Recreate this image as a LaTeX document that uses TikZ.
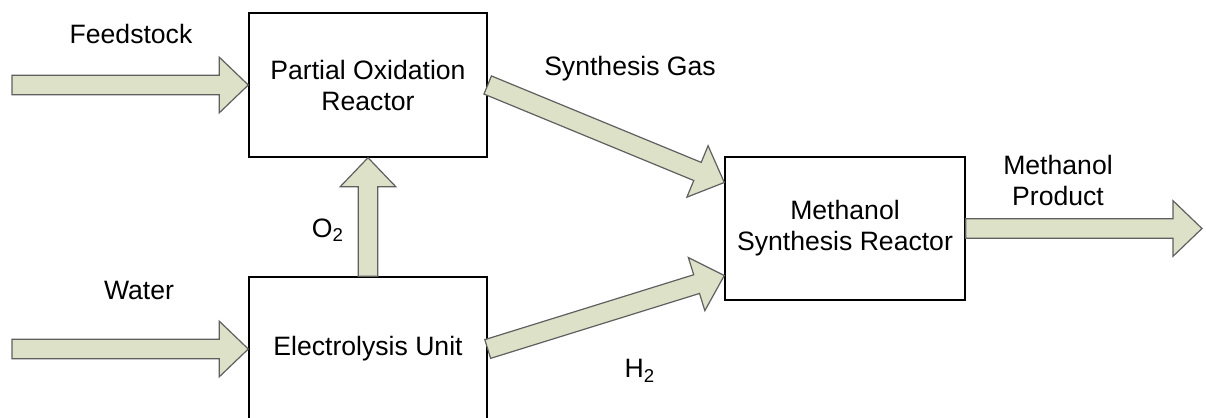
\documentclass[tikz,border=0pt]{standalone}
\usepackage{fontspec}
\setmainfont{Liberation Sans}
\usetikzlibrary{calc,positioning}
\definecolor{flowfill}{RGB}{221,225,200}
\definecolor{flowline}{RGB}{95,95,95}
\newcommand{\flowarrow}[2]{%
  \path[flow] let \p1=($(#2)!14.5pt!(#1)$) in
    ($(#1)!4.9pt!90:(#2)$) -- ($(\p1)!4.9pt!90:(#2)$) -- ($(\p1)!13.9pt!90:(#2)$)
    -- (#2) -- ($(\p1)!13.9pt!-90:(#2)$) -- ($(\p1)!4.9pt!-90:(#2)$)
    -- ($(#1)!4.9pt!-90:(#2)$) -- cycle;}

\begin{document}
\begin{tikzpicture}[x=0.5pt, y=-0.5pt,
    every node/.style={font=\fontsize{13.3}{15.5}\selectfont, text=black},
    unit/.style={rectangle, draw, line width=0.7pt, minimum width=119pt, minimum height=72pt, inner sep=0pt, align=center},
    lbl/.style={align=center, inner sep=0pt},
    flow/.style={draw=flowline, fill=flowfill, line width=0.6pt, line join=miter}]
    \useasboundingbox (0,0) rectangle (1206,418);
    \clip (0,0) rectangle (1206,418);
    \node [unit] (pox) at (368,85) {Partial Oxidation\\Reactor};
    \node [unit] (elec) at (368,349) {Electrolysis Unit};
    \node [unit, minimum width=120pt, minimum height=71.5pt] (msr) at (845,228.5) {Methanol\\Synthesis Reactor};
    \coordinate (feedin) at (12,85);
    \coordinate (waterin) at (12,349);
    \coordinate (prodout) at (1202,228.5);
    \coordinate (gasin) at ([yshift=23pt]msr.west);
    \coordinate (hin) at ([yshift=-23.5pt]msr.west);
    \flowarrow{feedin}{pox.west}
    \flowarrow{waterin}{elec.west}
    \flowarrow{elec.north}{pox.south}
    \flowarrow{pox.east}{gasin}
    \flowarrow{elec.east}{hin}
    \flowarrow{msr.east}{prodout}
    \node [lbl] (feedlbl) at (131,34) {Feedstock};
    \node [lbl] (waterlbl) at (139,290) {Water};
    \node [lbl] (olbl) at (328,230) {O\textsubscript{2}};
    \node [lbl] (gaslbl) at (630,69) {Synthesis Gas};
    \node [lbl] (hlbl) at (640,371) {H\textsubscript{2}};
    \node [lbl] (prodlbl) at (1058,180) {Methanol\\Product};
\end{tikzpicture}
\end{document}
